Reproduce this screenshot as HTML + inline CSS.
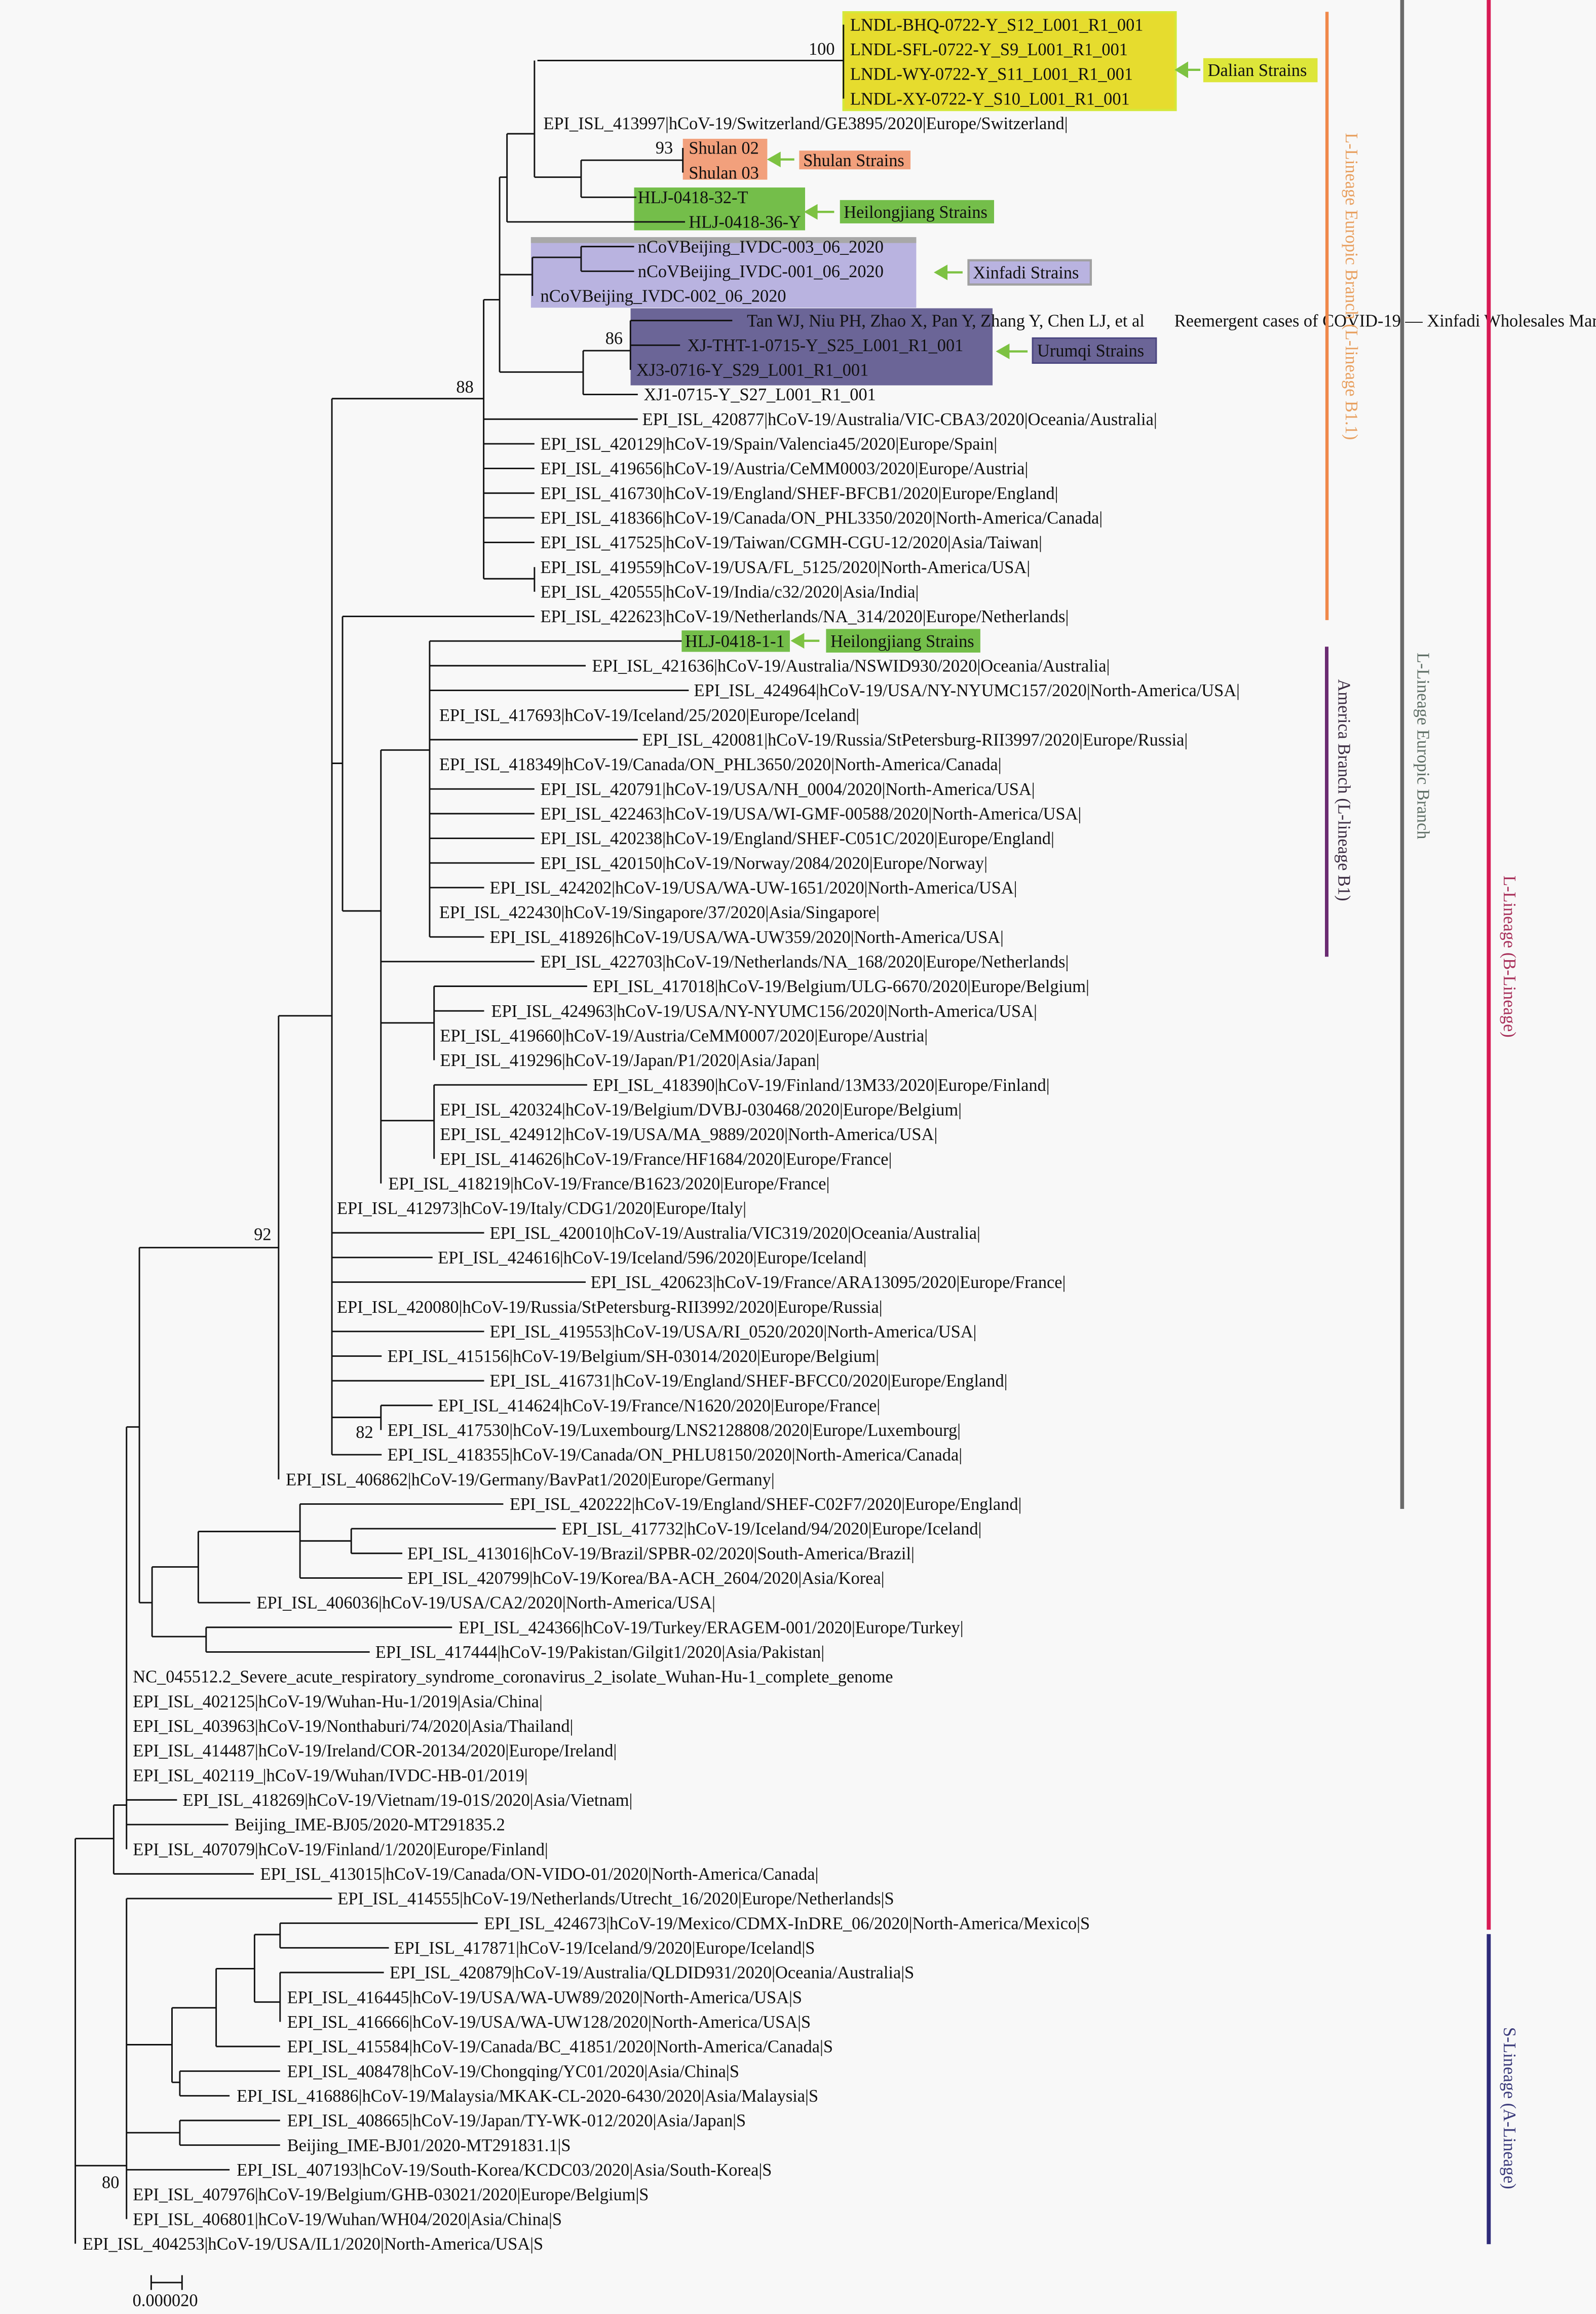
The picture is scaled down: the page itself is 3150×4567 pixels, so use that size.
<!DOCTYPE html>
<html><head><meta charset="utf-8"><style>
html,body{margin:0;padding:0;background:#f8f8f8;}
svg{display:block;}
text{font-family:"Liberation Serif","Times New Roman",serif;font-size:11.8px;fill:#111;}
</style></head><body>
<svg width="3150" height="4567" viewBox="0 0 1081 1567.3" preserveAspectRatio="none" xmlns="http://www.w3.org/2000/svg">
<rect x="0" y="0" width="1081" height="1567.3" fill="#f8f8f8"/>
<!-- highlight boxes -->
<rect x="571.3" y="8.3" width="225" height="66.2" fill="#e6dc2e" stroke="#d4e83a" stroke-width="1.5"/>
<rect x="815" y="39.4" width="77.4" height="16.3" fill="#dde63a"/>
<rect x="462.5" y="94" width="57.2" height="27.7" fill="#f2a07c"/>
<rect x="541.3" y="102" width="75.4" height="12.7" fill="#f2a07c"/>
<rect x="429.5" y="127" width="115.8" height="29" fill="#74be4a"/>
<rect x="568.9" y="135.5" width="104.4" height="15.8" fill="#74be4a"/>
<rect x="359.6" y="160.6" width="261" height="47.8" fill="#b9b3e0"/>
<rect x="359.6" y="160.6" width="261" height="4" fill="#a8a8a8"/>
<rect x="656" y="176.3" width="82.8" height="16.4" fill="#b9b3e0" stroke="#a0a0a0" stroke-width="1.5"/>
<rect x="427.1" y="208.8" width="245.2" height="52.2" fill="#6b6597"/>
<rect x="699.4" y="229" width="83.7" height="16.9" fill="#6b6597" stroke="#4a4580" stroke-width="1"/>
<rect x="461.7" y="427" width="73.3" height="14.5" fill="#74be4a"/>
<rect x="559.5" y="426" width="104.5" height="16" fill="#74be4a"/>
<!-- arrows -->
<g fill="#7dc242" stroke="#7dc242" stroke-width="1.5">
<polygon points="797,47.3 804,43 804,51.6"/><line x1="804" y1="47.3" x2="813" y2="47.3"/>
<polygon points="521,108 528,104 528,112"/><line x1="528" y1="108" x2="538" y2="108"/>
<polygon points="546,143.5 553,139.5 553,147.5"/><line x1="553" y1="143.5" x2="565" y2="143.5"/>
<polygon points="634,184.5 641,180.5 641,188.5"/><line x1="641" y1="184.5" x2="652" y2="184.5"/>
<polygon points="676,238 683,234 683,242"/><line x1="683" y1="238" x2="696" y2="238"/>
<polygon points="537,434 544,430 544,438"/><line x1="544" y1="434" x2="555" y2="434"/>
</g>
<!-- tree -->
<path fill="none" stroke="#111" stroke-width="1.0" d="
M364 41H571.3M571.3 16.7V66.8
M362 41V120M362 120H393.6
M343.4 90.6V150.3M343.4 90.6H362M343.4 150.3H464
M393.6 108.5V133.6M393.6 108.5H462.5M393.6 133.6H431
M462.5 100.2V116.9
M338.4 120V252M338.4 120H343.4M338.4 186H360.6M338.4 252H395
M360.6 174.3V200.4M360.6 174.3H393.6M393.6 167V183.7M393.6 167H429.5M393.6 183.7H429.5
M395 237.5V267.2M395 237.5H427M427 217.1V250.5M427 217.1H496M427 233.8H460.6M395 267.2H432
M327.6 203V392M327.6 203H338.4M224.8 270H327.6
M327.6 283.9H432M327.6 300.6H362M327.6 317.3H362M327.6 334H362M327.6 350.7H362M327.6 367.4H362
M327.6 392H362M362 384.1V400.8
M224.8 270V985.3M188.7 688H224.8
M224.8 517H232M232 417.5V617M232 417.5H362M232 617H258
M258 508V801.6M258 508H291
M291 434.2V634.6M291 434.2H461.7M291 450.9H396.7M291 467.6H466.5M291 501H432
M291 534.4H362M291 551.1H362M291 567.8H362M291 584.5H362M291 601.2H327.9M291 634.6H327.9
M258 651.3H362
M258 692.8H294M294 668V718.1M294 668H397.7M294 684.7H327.9
M258 759H294M294 734.8V784.9M294 734.8H397.7
M224.8 835H327.9M224.8 851.7H293M224.8 868.4H396.7M224.8 901.8H327.9M224.8 918.5H258.5M224.8 935.2H327.9
M224.8 960H258M258 951.9V968.6M258 951.9H293M224.8 985.3H258.5
M188.7 688V1002M94.4 845H188.7
M94.4 845V1085.5M85.7 966.5H94.4M94.4 1085.5H103
M103 1061.3V1108.5M103 1061.3H134.3M103 1108.5H139.6
M134.3 1037.3V1085.5M134.3 1037.3H203.2M134.3 1085.5H169.5
M203.2 1018.7V1068.8M203.2 1018.7H340.9M203.2 1043.7H237.9M237.9 1035.4V1052.1M237.9 1035.4H376.5M237.9 1052.1H272.5M203.2 1068.8H272.5
M139.6 1102.2V1118.9M139.6 1102.2H306.2M139.6 1118.9H250.4
M85.7 966.5V1252.5M85.7 1219.1H119.9M85.7 1235.8H154.6
M77 1222.6V1269.2M77 1222.6H85.7M77 1269.2H171.9
M51 1245.3V1519.7M51 1245.3H77M51 1466.8H85.7
M85.7 1285.9V1503M85.7 1285.9H224.9
M85.7 1384.9H116.5M116.5 1359.9V1410.4
M116.5 1359.9H146.4M146.4 1333.4V1386.1M146.4 1333.4H172.4M172.4 1310.3V1356
M172.4 1310.3H189.7M189.7 1302.6V1319.3M189.7 1302.6H323.6M189.7 1319.3H263.4
M172.4 1356H189.7M189.7 1336V1369.4M189.7 1336H260M146.4 1386.1H189.7
M116.5 1410.4H121.8M121.8 1402.8V1419.5M121.8 1402.8H189.7M121.8 1419.5H155.5
M85.7 1444.5H121.8M121.8 1436.2V1452.9M121.8 1436.2H189.7M121.8 1452.9H189.7
M85.7 1469.6H155.5
M102.4 1546H123.3M102.4 1541V1551M123.3 1541V1551
"/>
<!-- bootstrap values -->
<text x="547.7" y="37">100</text>
<text x="444" y="104">93</text>
<text x="410" y="233">86</text>
<text x="309" y="266">88</text>
<text x="172" y="840">92</text>
<text x="241" y="974">82</text>
<text x="69" y="1482">80</text>
<text x="89.8" y="1562">0.000020</text>
<!-- strain box labels -->
<text x="818" y="51.5">Dalian Strains</text>
<text x="544" y="112.5">Shulan Strains</text>
<text x="571.5" y="147.5">Heilongjiang Strains</text>
<text x="659" y="188.5">Xinfadi Strains</text>
<text x="702.5" y="241.5">Urumqi Strains</text>
<text x="562.5" y="438.2">Heilongjiang Strains</text>
<!-- leaf labels -->
<text x="575.8" y="20.7">LNDL-BHQ-0722-Y_S12_L001_R1_001</text>
<text x="575.8" y="37.4">LNDL-SFL-0722-Y_S9_L001_R1_001</text>
<text x="575.8" y="54.1">LNDL-WY-0722-Y_S11_L001_R1_001</text>
<text x="575.8" y="70.8">LNDL-XY-0722-Y_S10_L001_R1_001</text>
<text x="368" y="87.5">EPI_ISL_413997|hCoV-19/Switzerland/GE3895/2020|Europe/Switzerland|</text>
<text x="466.5" y="104.2">Shulan 02</text>
<text x="466.5" y="120.9">Shulan 03</text>
<text x="432" y="137.6">HLJ-0418-32-T</text>
<text x="466.5" y="154.3">HLJ-0418-36-Y</text>
<text x="432" y="171">nCoVBeijing_IVDC-003_06_2020</text>
<text x="432" y="187.7">nCoVBeijing_IVDC-001_06_2020</text>
<text x="366" y="204.4">nCoVBeijing_IVDC-002_06_2020</text>
<text x="505.9" y="221.1">Tan WJ, Niu PH, Zhao X, Pan Y, Zhang Y, Chen LJ, et al</text>
<text x="795.4" y="221.1">Reemergent cases of COVID-19 — Xinfadi Wholesales Market</text>
<text x="465.5" y="237.8">XJ-THT-1-0715-Y_S25_L001_R1_001</text>
<text x="431" y="254.5">XJ3-0716-Y_S29_L001_R1_001</text>
<text x="436" y="271.2">XJ1-0715-Y_S27_L001_R1_001</text>
<text x="435" y="287.9">EPI_ISL_420877|hCoV-19/Australia/VIC-CBA3/2020|Oceania/Australia|</text>
<text x="366" y="304.6">EPI_ISL_420129|hCoV-19/Spain/Valencia45/2020|Europe/Spain|</text>
<text x="366" y="321.3">EPI_ISL_419656|hCoV-19/Austria/CeMM0003/2020|Europe/Austria|</text>
<text x="366" y="338">EPI_ISL_416730|hCoV-19/England/SHEF-BFCB1/2020|Europe/England|</text>
<text x="366" y="354.7">EPI_ISL_418366|hCoV-19/Canada/ON_PHL3350/2020|North-America/Canada|</text>
<text x="366" y="371.4">EPI_ISL_417525|hCoV-19/Taiwan/CGMH-CGU-12/2020|Asia/Taiwan|</text>
<text x="366" y="388.1">EPI_ISL_419559|hCoV-19/USA/FL_5125/2020|North-America/USA|</text>
<text x="366" y="404.8">EPI_ISL_420555|hCoV-19/India/c32/2020|Asia/India|</text>
<text x="366" y="421.5">EPI_ISL_422623|hCoV-19/Netherlands/NA_314/2020|Europe/Netherlands|</text>
<text x="464" y="438.2">HLJ-0418-1-1</text>
<text x="401" y="454.9">EPI_ISL_421636|hCoV-19/Australia/NSWID930/2020|Oceania/Australia|</text>
<text x="470" y="471.6">EPI_ISL_424964|hCoV-19/USA/NY-NYUMC157/2020|North-America/USA|</text>
<text x="297.5" y="488.3">EPI_ISL_417693|hCoV-19/Iceland/25/2020|Europe/Iceland|</text>
<text x="435" y="505">EPI_ISL_420081|hCoV-19/Russia/StPetersburg-RII3997/2020|Europe/Russia|</text>
<text x="297.5" y="521.7">EPI_ISL_418349|hCoV-19/Canada/ON_PHL3650/2020|North-America/Canada|</text>
<text x="366" y="538.4">EPI_ISL_420791|hCoV-19/USA/NH_0004/2020|North-America/USA|</text>
<text x="366" y="555.1">EPI_ISL_422463|hCoV-19/USA/WI-GMF-00588/2020|North-America/USA|</text>
<text x="366" y="571.8">EPI_ISL_420238|hCoV-19/England/SHEF-C051C/2020|Europe/England|</text>
<text x="366" y="588.5">EPI_ISL_420150|hCoV-19/Norway/2084/2020|Europe/Norway|</text>
<text x="331.7" y="605.2">EPI_ISL_424202|hCoV-19/USA/WA-UW-1651/2020|North-America/USA|</text>
<text x="297.5" y="621.9">EPI_ISL_422430|hCoV-19/Singapore/37/2020|Asia/Singapore|</text>
<text x="331.7" y="638.6">EPI_ISL_418926|hCoV-19/USA/WA-UW359/2020|North-America/USA|</text>
<text x="366" y="655.3">EPI_ISL_422703|hCoV-19/Netherlands/NA_168/2020|Europe/Netherlands|</text>
<text x="401.5" y="672">EPI_ISL_417018|hCoV-19/Belgium/ULG-6670/2020|Europe/Belgium|</text>
<text x="332.7" y="688.7">EPI_ISL_424963|hCoV-19/USA/NY-NYUMC156/2020|North-America/USA|</text>
<text x="298" y="705.4">EPI_ISL_419660|hCoV-19/Austria/CeMM0007/2020|Europe/Austria|</text>
<text x="298" y="722.1">EPI_ISL_419296|hCoV-19/Japan/P1/2020|Asia/Japan|</text>
<text x="401.5" y="738.8">EPI_ISL_418390|hCoV-19/Finland/13M33/2020|Europe/Finland|</text>
<text x="298" y="755.5">EPI_ISL_420324|hCoV-19/Belgium/DVBJ-030468/2020|Europe/Belgium|</text>
<text x="298" y="772.2">EPI_ISL_424912|hCoV-19/USA/MA_9889/2020|North-America/USA|</text>
<text x="298" y="788.9">EPI_ISL_414626|hCoV-19/France/HF1684/2020|Europe/France|</text>
<text x="263" y="805.6">EPI_ISL_418219|hCoV-19/France/B1623/2020|Europe/France|</text>
<text x="228.2" y="822.3">EPI_ISL_412973|hCoV-19/Italy/CDG1/2020|Europe/Italy|</text>
<text x="331.7" y="839">EPI_ISL_420010|hCoV-19/Australia/VIC319/2020|Oceania/Australia|</text>
<text x="296.6" y="855.7">EPI_ISL_424616|hCoV-19/Iceland/596/2020|Europe/Iceland|</text>
<text x="400" y="872.4">EPI_ISL_420623|hCoV-19/France/ARA13095/2020|Europe/France|</text>
<text x="228.2" y="889.1">EPI_ISL_420080|hCoV-19/Russia/StPetersburg-RII3992/2020|Europe/Russia|</text>
<text x="331.7" y="905.8">EPI_ISL_419553|hCoV-19/USA/RI_0520/2020|North-America/USA|</text>
<text x="262.4" y="922.5">EPI_ISL_415156|hCoV-19/Belgium/SH-03014/2020|Europe/Belgium|</text>
<text x="331.7" y="939.2">EPI_ISL_416731|hCoV-19/England/SHEF-BFCC0/2020|Europe/England|</text>
<text x="296.6" y="955.9">EPI_ISL_414624|hCoV-19/France/N1620/2020|Europe/France|</text>
<text x="262.4" y="972.6">EPI_ISL_417530|hCoV-19/Luxembourg/LNS2128808/2020|Europe/Luxembourg|</text>
<text x="262.4" y="989.3">EPI_ISL_418355|hCoV-19/Canada/ON_PHLU8150/2020|North-America/Canada|</text>
<text x="193.6" y="1006">EPI_ISL_406862|hCoV-19/Germany/BavPat1/2020|Europe/Germany|</text>
<text x="345.2" y="1022.7">EPI_ISL_420222|hCoV-19/England/SHEF-C02F7/2020|Europe/England|</text>
<text x="380.4" y="1039.4">EPI_ISL_417732|hCoV-19/Iceland/94/2020|Europe/Iceland|</text>
<text x="275.9" y="1056.1">EPI_ISL_413016|hCoV-19/Brazil/SPBR-02/2020|South-America/Brazil|</text>
<text x="275.9" y="1072.8">EPI_ISL_420799|hCoV-19/Korea/BA-ACH_2604/2020|Asia/Korea|</text>
<text x="173.8" y="1089.5">EPI_ISL_406036|hCoV-19/USA/CA2/2020|North-America/USA|</text>
<text x="310.6" y="1106.2">EPI_ISL_424366|hCoV-19/Turkey/ERAGEM-001/2020|Europe/Turkey|</text>
<text x="254.2" y="1122.9">EPI_ISL_417444|hCoV-19/Pakistan/Gilgit1/2020|Asia/Pakistan|</text>
<text x="90" y="1139.6">NC_045512.2_Severe_acute_respiratory_syndrome_coronavirus_2_isolate_Wuhan-Hu-1_complete_genome</text>
<text x="90" y="1156.3">EPI_ISL_402125|hCoV-19/Wuhan-Hu-1/2019|Asia/China|</text>
<text x="90" y="1173">EPI_ISL_403963|hCoV-19/Nonthaburi/74/2020|Asia/Thailand|</text>
<text x="90" y="1189.7">EPI_ISL_414487|hCoV-19/Ireland/COR-20134/2020|Europe/Ireland|</text>
<text x="90" y="1206.4">EPI_ISL_402119_|hCoV-19/Wuhan/IVDC-HB-01/2019|</text>
<text x="123.7" y="1223.1">EPI_ISL_418269|hCoV-19/Vietnam/19-01S/2020|Asia/Vietnam|</text>
<text x="158.9" y="1239.8">Beijing_IME-BJ05/2020-MT291835.2</text>
<text x="90" y="1256.5">EPI_ISL_407079|hCoV-19/Finland/1/2020|Europe/Finland|</text>
<text x="176.2" y="1273.2">EPI_ISL_413015|hCoV-19/Canada/ON-VIDO-01/2020|North-America/Canada|</text>
<text x="228.7" y="1289.9">EPI_ISL_414555|hCoV-19/Netherlands/Utrecht_16/2020|Europe/Netherlands|S</text>
<text x="327.9" y="1306.6">EPI_ISL_424673|hCoV-19/Mexico/CDMX-InDRE_06/2020|North-America/Mexico|S</text>
<text x="266.8" y="1323.3">EPI_ISL_417871|hCoV-19/Iceland/9/2020|Europe/Iceland|S</text>
<text x="263.9" y="1340">EPI_ISL_420879|hCoV-19/Australia/QLDID931/2020|Oceania/Australia|S</text>
<text x="194.5" y="1356.7">EPI_ISL_416445|hCoV-19/USA/WA-UW89/2020|North-America/USA|S</text>
<text x="194.5" y="1373.4">EPI_ISL_416666|hCoV-19/USA/WA-UW128/2020|North-America/USA|S</text>
<text x="194.5" y="1390.1">EPI_ISL_415584|hCoV-19/Canada/BC_41851/2020|North-America/Canada|S</text>
<text x="194.5" y="1406.8">EPI_ISL_408478|hCoV-19/Chongqing/YC01/2020|Asia/China|S</text>
<text x="160.3" y="1423.5">EPI_ISL_416886|hCoV-19/Malaysia/MKAK-CL-2020-6430/2020|Asia/Malaysia|S</text>
<text x="194.5" y="1440.2">EPI_ISL_408665|hCoV-19/Japan/TY-WK-012/2020|Asia/Japan|S</text>
<text x="194.5" y="1456.9">Beijing_IME-BJ01/2020-MT291831.1|S</text>
<text x="160.3" y="1473.6">EPI_ISL_407193|hCoV-19/South-Korea/KCDC03/2020|Asia/South-Korea|S</text>
<text x="90" y="1490.3">EPI_ISL_407976|hCoV-19/Belgium/GHB-03021/2020|Europe/Belgium|S</text>
<text x="90" y="1507">EPI_ISL_406801|hCoV-19/Wuhan/WH04/2020|Asia/China|S</text>
<text x="55.9" y="1523.7">EPI_ISL_404253|hCoV-19/USA/IL1/2020|North-America/USA|S</text>
<!-- lineage bars -->
<rect x="897.7" y="8" width="2.2" height="412" fill="#f0884a"/>
<rect x="897.4" y="438" width="2.4" height="210" fill="#6b2c72"/>
<rect x="948.4" y="0" width="2.6" height="1022" fill="#6a6a6a"/>
<rect x="1007" y="0" width="2.7" height="1307" fill="#d81b55"/>
<rect x="1007" y="1310" width="2.7" height="210" fill="#2e2b7a"/>
<text transform="translate(911.5,90) rotate(90)" style="fill:#e8a060">L-Lineage Europic Branch  (L-lineage B1.1)</text>
<text transform="translate(906.5,460) rotate(90)" style="fill:#3a2a40">America Branch (L-lineage B1)</text>
<text transform="translate(960,442) rotate(90)" style="fill:#5f6f66">L-Lineage Europic Branch</text>
<text transform="translate(1018.5,593) rotate(90)" style="fill:#a8305a">L-Lineage (B-Lineage)</text>
<text transform="translate(1018.5,1373) rotate(90)" style="fill:#3a3a7a">S-Lineage (A-Lineage)</text>
</svg>
</body></html>
